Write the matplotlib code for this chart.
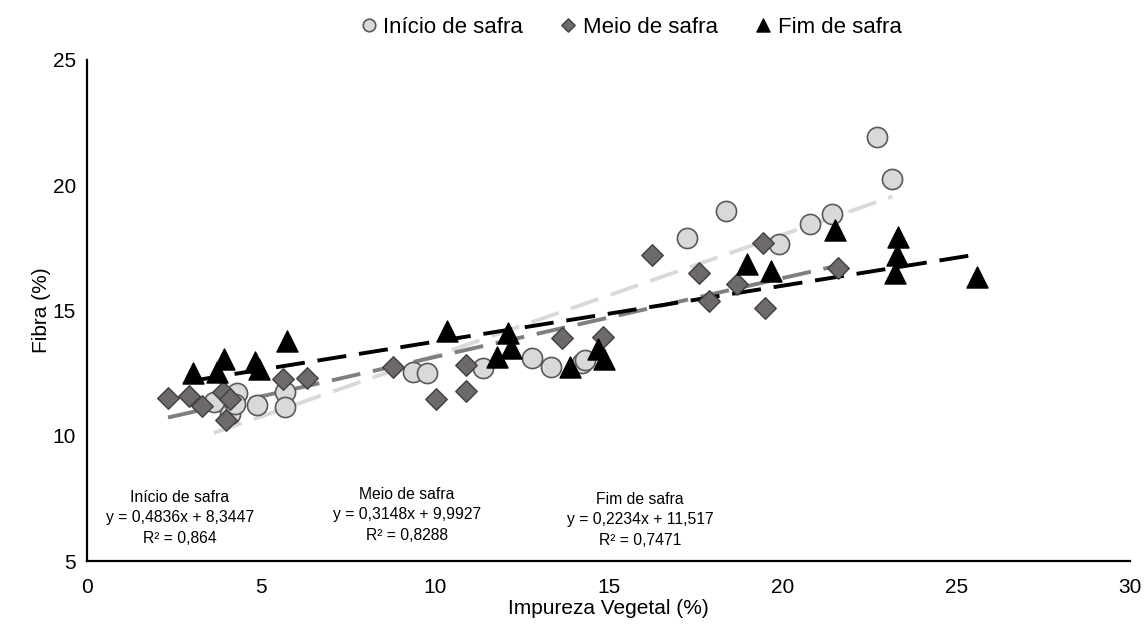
import numpy as np
import matplotlib.pyplot as plt

plt.rcParams['font.family'] = ['Liberation Sans', 'DejaVu Sans']

# Início de safra
inicio_x = [3.65, 4.11, 4.31, 4.25, 4.89, 5.69, 5.69, 9.37, 9.77, 11.38,
            12.79, 13.33, 14.25, 14.31, 17.27, 18.39, 19.89, 20.8, 21.44, 22.73, 23.16]
inicio_y = [11.35, 10.85, 11.7, 11.27, 11.23, 11.75, 11.15, 12.55, 12.5, 12.7,
            13.1, 12.74, 12.9, 13.02, 17.9, 18.97, 17.65, 18.45, 18.85, 21.93, 20.25]

# Meio de safra
meio_x = [2.33, 2.93, 3.3, 3.91, 3.99, 4.1, 5.63, 6.32, 8.79, 10.03, 10.89, 10.89,
          13.65, 14.83, 16.26, 17.59, 17.9, 18.68, 19.45, 19.51, 21.61]
meio_y = [11.51, 11.6, 11.19, 11.75, 10.63, 11.45, 12.27, 12.3, 12.74, 11.47, 11.79, 12.82,
          13.9, 13.94, 17.22, 16.5, 15.38, 16.06, 17.69, 15.1, 16.7]

# Fim de safra
fim_x = [3.05, 3.74, 3.94, 4.83, 4.94, 5.75, 10.34, 11.8, 12.1, 12.2, 13.88, 14.71,
         14.86, 18.97, 19.66, 21.52, 23.25, 23.3, 23.33, 25.6]
fim_y = [12.5, 12.55, 13.05, 12.95, 12.68, 13.78, 14.17, 13.15, 14.1, 13.5, 12.74, 13.46,
         13.05, 16.86, 16.58, 18.21, 16.5, 17.2, 17.93, 16.34]

# Equações das linhas de tendência
coef = {'inicio': (0.4836, 8.3447), 'meio': (0.3148, 9.9927), 'fim': (0.2234, 11.517)}
eq_text = {
    'inicio': 'Início de safra\ny = 0,4836x + 8,3447\nR² = 0,864',
    'meio': 'Meio de safra\ny = 0,3148x + 9,9927\nR² = 0,8288',
    'fim': 'Fim de safra\ny = 0,2234x + 11,517\nR² = 0,7471',
}

fig = plt.figure(figsize=(11.45, 6.3), dpi=100)
ax = fig.add_axes([0.076, 0.1095, 0.911, 0.7955])

# Linhas de tendência
for key, xs, color in [('inicio', inicio_x, '#d9d9d9'), ('meio', meio_x, '#7f7f7f'), ('fim', fim_x, 'black')]:
    a, b = coef[key]
    xl = np.array([min(xs), max(xs)])
    ax.plot(xl, a * xl + b, color=color, linestyle=(0, (7.5, 3.3)), linewidth=2.8, zorder=2)

ax.scatter(inicio_x, inicio_y, marker='o', s=210, facecolor='#d9d9d9', edgecolor='#595959',
           linewidth=1.2, zorder=3, label='Início de safra')
ax.scatter(meio_x, meio_y, marker='D', s=120, facecolor='#6e6a6a', edgecolor='#404040',
           linewidth=1.0, zorder=4, label='Meio de safra')
ax.scatter(fim_x, fim_y, marker='^', s=230, facecolor='black', edgecolor='black',
           linewidth=1.0, zorder=5, label='Fim de safra')

ax.text(2.67, 6.72, eq_text['inicio'], ha='center', va='center', fontsize=11.3, linespacing=1.45)
ax.text(9.2, 6.84, eq_text['meio'], ha='center', va='center', fontsize=11.3, linespacing=1.45)
ax.text(15.9, 6.64, eq_text['fim'], ha='center', va='center', fontsize=11.3, linespacing=1.45)

ax.set_xlim(0, 30)
ax.set_ylim(5, 25)
ax.set_xticks([0, 5, 10, 15, 20, 25, 30])
ax.set_yticks([5, 10, 15, 20, 25])
ax.tick_params(axis='x', length=0, labelsize=15, pad=12)
ax.tick_params(axis='y', length=0, labelsize=15, pad=8)
for s in ['top', 'right']:
    ax.spines[s].set_visible(False)
for s in ['left', 'bottom']:
    ax.spines[s].set_linewidth(1.6)
ax.set_xlabel('Impureza Vegetal (%)', fontsize=15, labelpad=2)
ax.set_ylabel('Fibra (%)', fontsize=15, labelpad=1)

leg = fig.legend(loc='upper center', bbox_to_anchor=(0.545, 1.005), ncol=3, frameon=False,
                 fontsize=16, handletextpad=-0.35, columnspacing=1.05, markerscale=0.62,
                 scatteryoffsets=[0.5])

fig.savefig('out.png', dpi=100)
